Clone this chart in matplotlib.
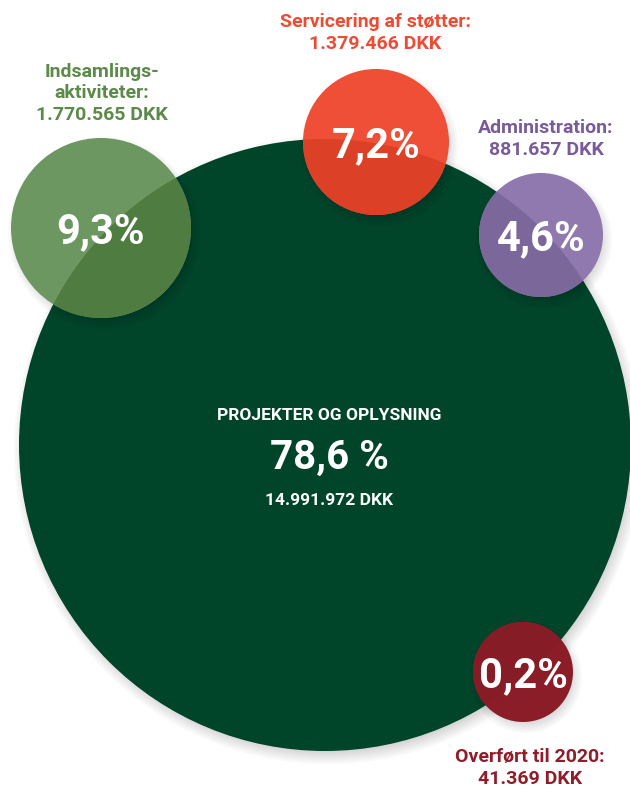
# bubble_chart.py

import matplotlib
matplotlib.use("Agg")
import matplotlib.pyplot as plt
from matplotlib.patches import Circle

plt.rcParams['font.family'] = ['Roboto', 'DejaVu Sans']

# data
labels = ["Indsamlings-\naktiviteter:", "Servicering af støtter:",
          "Administration:", "Overført til 2020:"]
amounts = ["1.770.565 DKK", "1.379.466 DKK", "881.657 DKK", "41.369 DKK"]
percents = ["9,3%", "7,2%", "4,6%", "0,2%"]
main_label = "PROJEKTER OG OPLYSNING"
main_percent = "78,6 %"
main_amount = "14.991.972 DKK"

# styles / layout (pixel coords)
main_color = "#00442a"
colors = ["#6c9761", "#f04f37", "#9079ae", "#8a1d28"]
overlap = ["#4e7c41", "#dc4128", "#7c679b", "#861c26"]
text_colors = ["#5b8a49", "#ee4b34", "#7a5b9a", "#8f1d2a"]
centers = [(101, 228), (376, 142), (541, 235), (523, 672)]
radii = [90, 73, 62, 50]
label_pos = [(102, 93), (375, 33), (546, 139), (530, 768)]
main_c = (325, 445)
main_r = 306

fig = plt.figure(figsize=(6.3, 7.89), dpi=100)
ax = fig.add_axes([0, 0, 1, 1])
ax.set_xlim(0, 630)
ax.set_ylim(789, 0)
ax.set_aspect('equal')
ax.axis('off')

def shadow(c, r, z, n=8):
    # soft drop shadow from stacked faint circles
    for k in range(n):
        ax.add_patch(Circle((c[0] + 3, c[1] + 5), r + n - 2 * k, color='black',
                            alpha=0.025, lw=0, zorder=z))

shadow(main_c, main_r, 1)
big = Circle(main_c, main_r, color=main_color, lw=0, zorder=2)
ax.add_patch(big)

ax.text(main_c[0] + 4, 415, main_label, color='white', fontsize=12.5,
        fontweight='bold', ha='center', va='center', zorder=10)
ax.text(main_c[0] + 4, 458, main_percent, color='white', fontsize=29,
        fontweight='bold', ha='center', va='center', zorder=10)
ax.text(main_c[0] + 4, 500, main_amount, color='white', fontsize=12.5,
        fontweight='bold', ha='center', va='center', zorder=10)

for i in range(len(percents)):
    c, r = centers[i], radii[i]
    shadow(c, r, 3, n=6)
    ax.add_patch(Circle(c, r, color=colors[i], lw=0, zorder=4))
    ov = Circle(c, r, color=overlap[i], lw=0, zorder=5)
    ax.add_patch(ov)
    ov.set_clip_path(Circle(main_c, main_r, transform=ax.transData))
    ax.text(c[0], c[1] + 4, percents[i], color='white', fontsize=30,
            fontweight='bold', ha='center', va='center', zorder=10)
    ax.text(label_pos[i][0], label_pos[i][1], labels[i] + "\n" + amounts[i],
            color=text_colors[i], fontsize=14, fontweight='bold',
            ha='center', va='center', linespacing=1.25, zorder=10)

fig.savefig("out.png", dpi=100)
